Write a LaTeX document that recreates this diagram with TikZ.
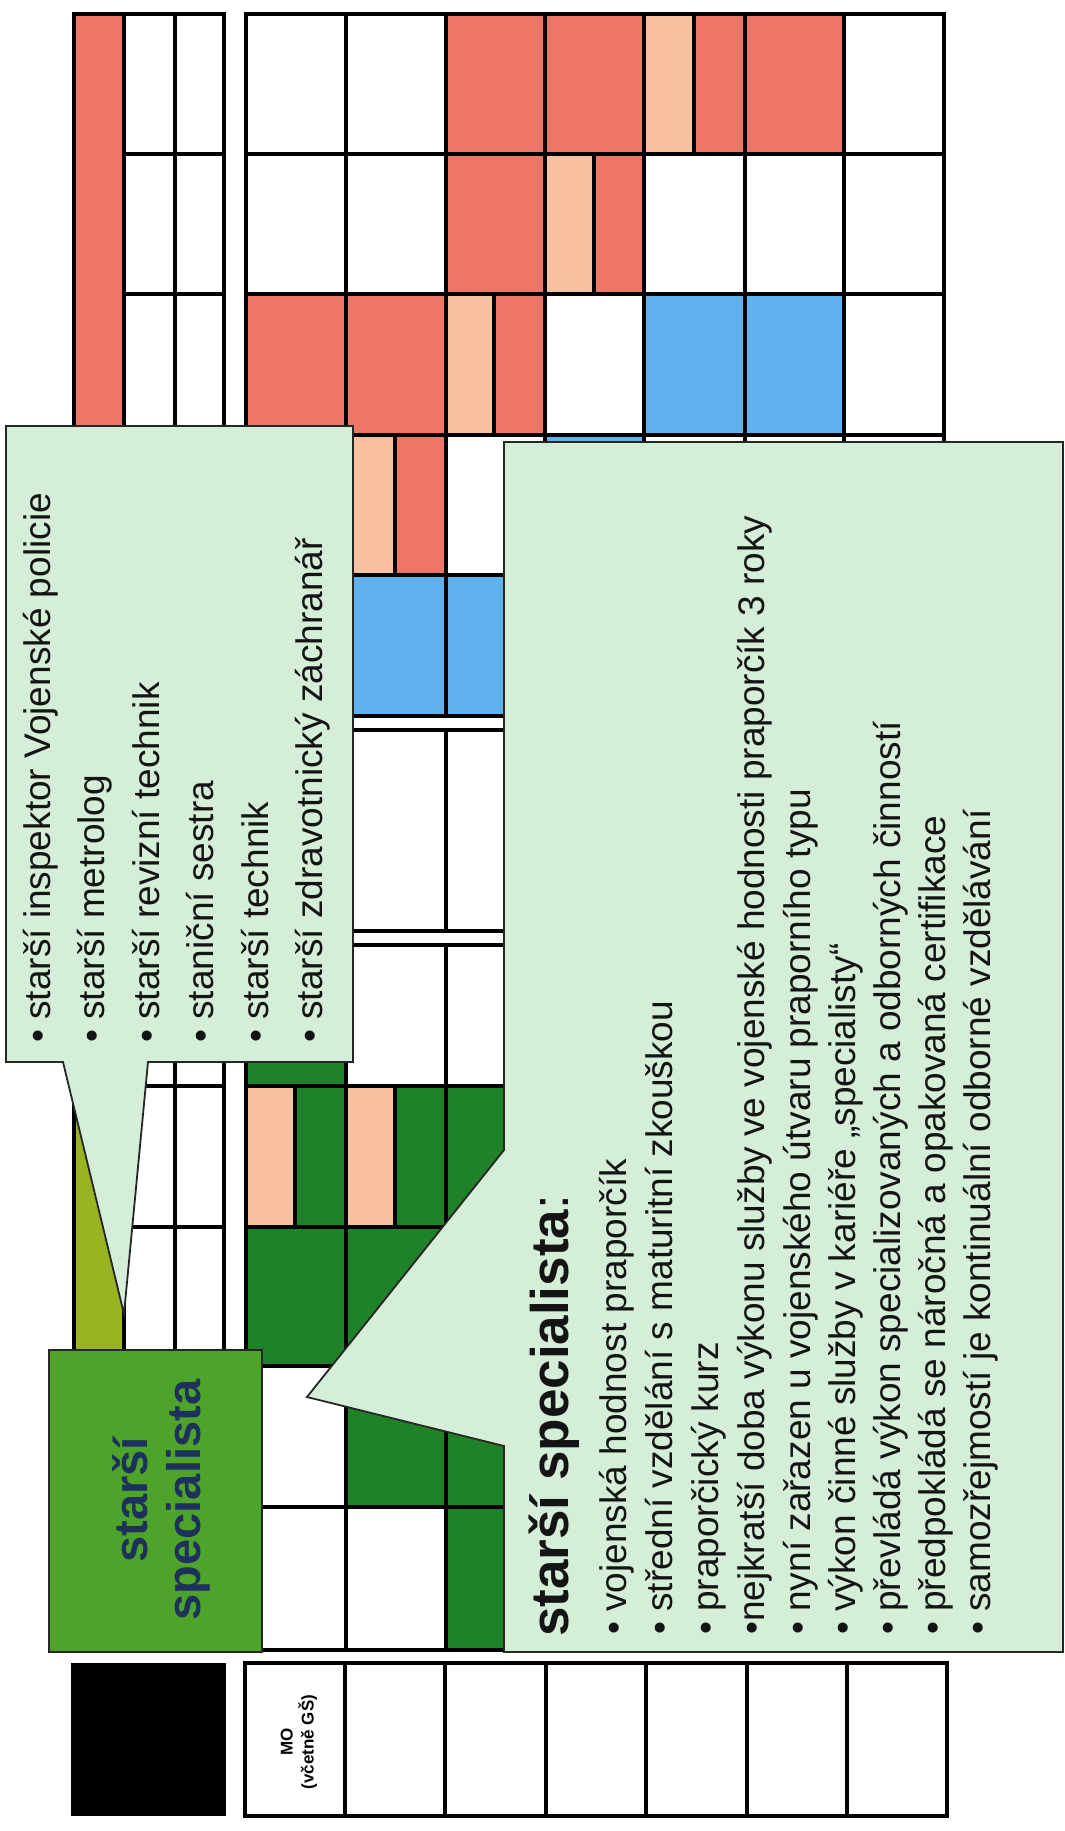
\documentclass[tikz,border=0pt]{standalone}
\usepackage{fontspec}
\setmainfont{Liberation Sans}
\definecolor{cred}{RGB}{238,118,102}
\definecolor{cpeach}{RGB}{247,192,158}
\definecolor{cblue}{RGB}{95,178,238}
\definecolor{cgreen}{RGB}{32,130,40}
\definecolor{cbox}{RGB}{78,163,42}
\definecolor{colive}{RGB}{152,180,32}
\definecolor{ccall}{RGB}{212,238,216}
\definecolor{cnavy}{RGB}{30,48,92}
\newcommand\cel[5]{\draw[gridline, fill=#5] (#1,#2) rectangle (#3,#4);}
\begin{document}
\begin{tikzpicture}[x=1pt,y=-1pt,
  gridline/.style={draw=black, line width=3.5pt},
  hdrline/.style={draw=black, line width=4.5pt},
  callout/.style={draw=black!85, line width=1.8pt, fill=ccall, line join=miter},
  ltxt/.style={rotate=90, anchor=base west, inner sep=0pt, font=\fontsize{37}{44}\selectfont, text=black!92},
  boxtxt/.style={rotate=90, anchor=base, inner sep=0pt, font=\bfseries\fontsize{47}{53}\selectfont, text=cnavy},
  ]
\useasboundingbox (0,0) rectangle (1065,1831);
\fill[white] (0,0) rectangle (1065,1831);

% ---------- left strip ----------
\cel{74}{14}{124}{716}{cred}
\cel{74}{730}{124}{1366}{colive}
\foreach \ya/\yb in {14/154,154/294,294/435,435/575,575/716,730/931,945/1086,1086/1227,1227/1366}{
  \foreach \xa/\xb in {124/175,175/224}{
    \draw[gridline, fill=white] (\xa,\ya) rectangle (\xb,\yb);
  }
}

% ---------- main grid ----------
\foreach \ya/\yb in {14/154,154/294,294/435,435/575,575/716,730/931,945/1086,1086/1227,1227/1366,1366/1507,1507/1650}{
  \foreach \xa/\xb in {246/346,346/446,446/545,545/644,644/745,745/844,844/944}{
    \draw[gridline, fill=white] (\xa,\ya) rectangle (\xb,\yb);
  }
}
% R1
\cel{446}{14}{545}{154}{cred}
\cel{545}{14}{644}{154}{cred}
\cel{644}{14}{694}{154}{cpeach}
\cel{694}{14}{745}{154}{cred}
\cel{745}{14}{844}{154}{cred}
% R2
\cel{446}{154}{545}{294}{cred}
\cel{545}{154}{594}{294}{cpeach}
\cel{594}{154}{644}{294}{cred}
% R3
\cel{246}{294}{346}{435}{cred}
\cel{346}{294}{446}{435}{cred}
\cel{446}{294}{494}{435}{cpeach}
\cel{494}{294}{545}{435}{cred}
\cel{644}{294}{745}{435}{cblue}
\cel{745}{294}{844}{435}{cblue}
% R4
\cel{246}{435}{346}{575}{cred}
\cel{346}{435}{395}{575}{cpeach}
\cel{395}{435}{446}{575}{cred}
\cel{545}{435}{644}{575}{cblue}
% R5
\cel{246}{575}{346}{716}{cblue}
\cel{346}{575}{446}{716}{cblue}
\cel{446}{575}{545}{716}{cblue}
% R7
\cel{246}{945}{346}{1086}{cgreen}
% R8
\cel{246}{1086}{295}{1227}{cpeach}
\cel{295}{1086}{346}{1227}{cgreen}
\cel{346}{1086}{395}{1227}{cpeach}
\cel{395}{1086}{446}{1227}{cgreen}
\cel{446}{1086}{545}{1227}{cgreen}
% R9
\cel{246}{1227}{346}{1366}{cgreen}
\cel{346}{1227}{446}{1366}{cgreen}
\cel{446}{1227}{545}{1366}{cgreen}
% R10
\cel{346}{1366}{446}{1507}{cgreen}
\cel{446}{1366}{545}{1507}{cgreen}
% R11
\cel{446}{1507}{545}{1650}{cgreen}

% ---------- header row ----------
\fill[black] (71,1663) rectangle (226,1816);
\foreach \xa/\xb in {245/345,345/445,445/546,546/646,646/747,747/847,847/947}{
  \draw[hdrline, fill=white] (\xa,1663) rectangle (\xb,1816);
}
\node[rotate=90, align=center, inner sep=0pt, font=\bfseries\fontsize{17}{21}\selectfont] (mo) at (299,1742) {MO\\(včetně GŠ)};

% ---------- upper callout ----------
\draw[callout] (6,426) -- (353,426) -- (353,1062) -- (148,1062) -- (124,1314) -- (63,1062) -- (6,1062) -- cycle;
\node[ltxt] (u1) at (50,1043) {• starší inspektor Vojenské policie};
\node[ltxt] (u2) at (104,1043) {• starší metrolog};
\node[ltxt] (u3) at (159,1043) {• starší revizní technik};
\node[ltxt] (u4) at (213,1043) {• staniční sestra};
\node[ltxt] (u5) at (268,1043) {• starší technik};
\node[ltxt] (u6) at (322,1043) {• starší zdravotnický záchranář};

% ---------- lower callout ----------
\draw[callout] (504,442) -- (1063,442) -- (1063,1652) -- (504,1652) -- (504,1446) -- (307,1397) -- (504,1150) -- cycle;
\node[ltxt, font=\fontsize{53}{60}\selectfont] (head) at (568,1637) {\textbf{starší specialista}:};
\node[ltxt] (l1) at (626,1635) {• vojenská hodnost praporčík};
\node[ltxt] (l2) at (672,1635) {• střední vzdělání s maturitní zkouškou};
\node[ltxt] (l3) at (718,1635) {• praporčický kurz};
\node[ltxt] (l4) at (764,1635) {•nejkratší doba výkonu služby ve vojenské hodnosti praporčík 3 roky};
\node[ltxt] (l5) at (810,1635) {• nyní zařazen u vojenského útvaru praporního typu};
\node[ltxt] (l6) at (855,1635) {• výkon činné služby v kariéře „specialisty“};
\node[ltxt] (l7) at (900,1635) {• převládá výkon specializovaných a odborných činností};
\node[ltxt] (l8) at (945,1635) {• předpokládá se náročná a opakovaná certifikace};
\node[ltxt] (l9) at (990,1635) {• samozřejmostí je kontinuální odborné vzdělávání};

% ---------- green box ----------
\draw[draw=black!85, line width=2pt, fill=cbox] (49,1350) rectangle (262,1652);
\node[boxtxt] (b1) at (147,1500) {starší};
\node[boxtxt] (b2) at (200,1500) {specialista};
\end{tikzpicture}
\end{document}
